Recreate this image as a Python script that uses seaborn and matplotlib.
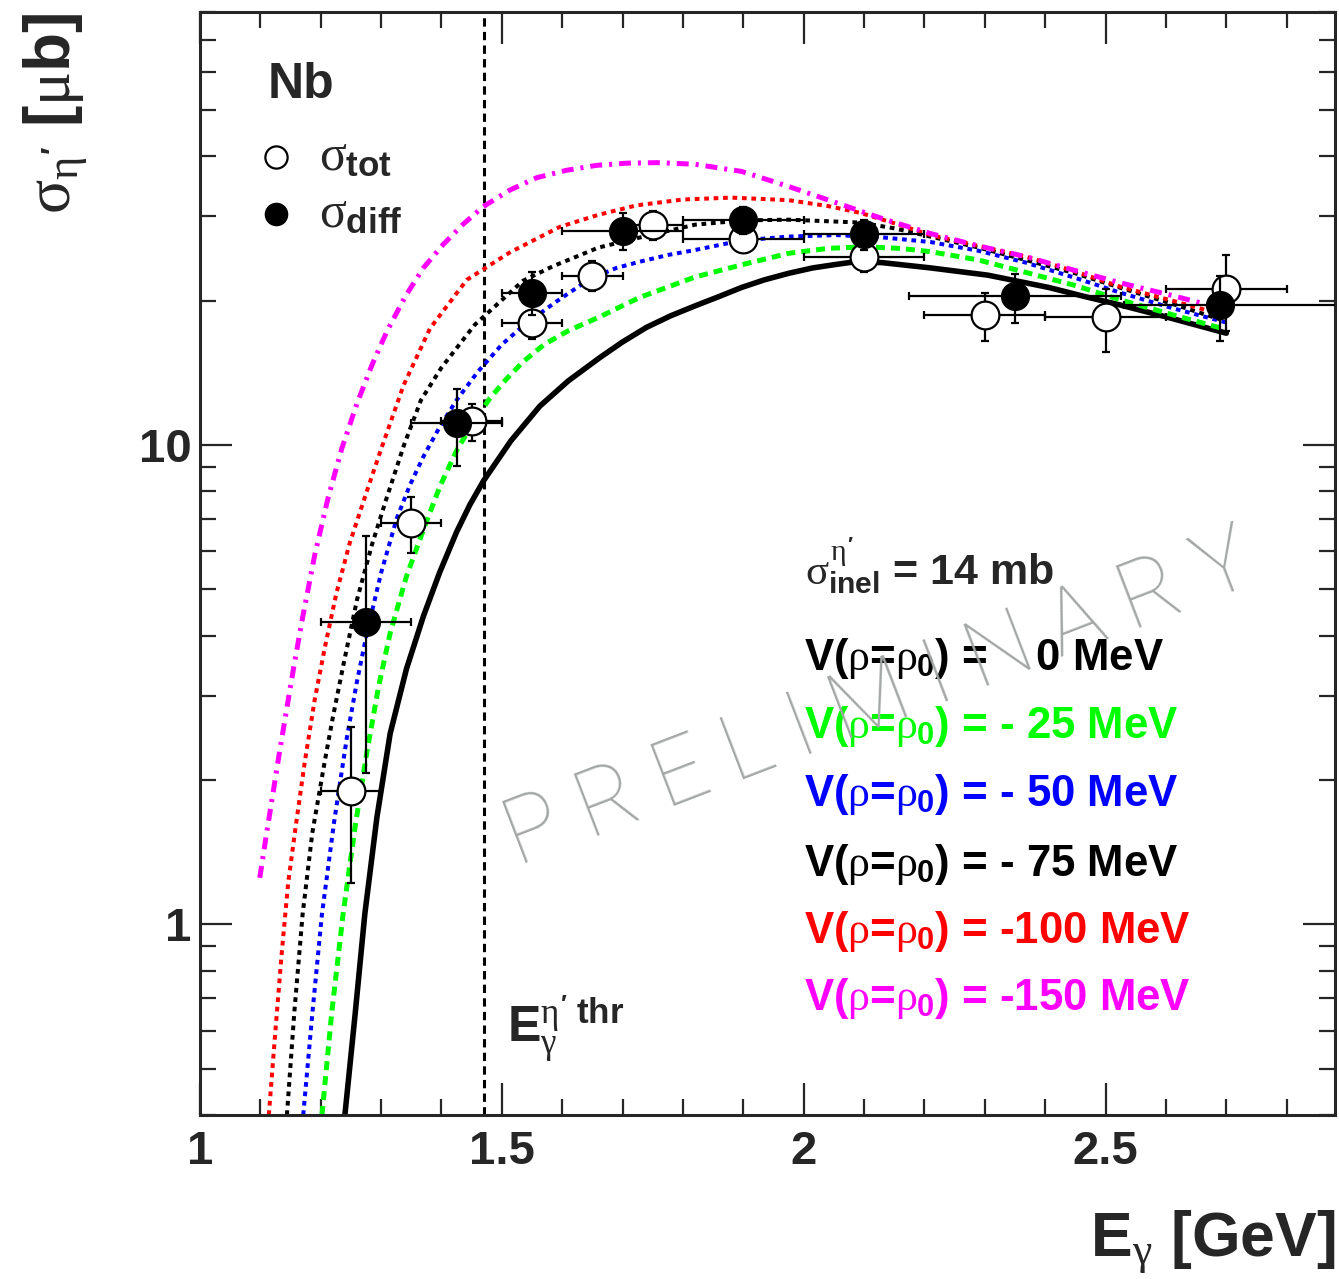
import matplotlib
matplotlib.use("Agg")
import matplotlib.pyplot as plt
import numpy as np
import seaborn as sns
from matplotlib.ticker import MultipleLocator, LogLocator, NullFormatter, FuncFormatter

# ---------------------------------------------------------------- data
# free-nucleon eta' photoproduction threshold [GeV]
e_thr = 1.47

# total cross section (open circles)
tot_e = [1.25, 1.35, 1.45, 1.55, 1.65, 1.75, 1.90, 2.10, 2.30, 2.50, 2.70]
tot_sig = [1.90, 6.87, 11.2, 18.0, 22.5, 28.8, 26.9, 24.7, 18.7, 18.5, 21.1]
tot_ex = [0.05, 0.05, 0.05, 0.05, 0.05, 0.05, 0.10, 0.10, 0.10, 0.10, 0.10]
tot_lo = [1.22, 5.96, 10.2, 16.6, 20.9, 26.8, 25.3, 22.9, 16.5, 15.6, 17.3]
tot_hi = [2.58, 7.78, 12.2, 19.5, 24.2, 30.8, 28.5, 26.5, 20.7, 21.1, 24.9]

# differential-method cross section (full circles)
diff_e = [1.275, 1.425, 1.55, 1.70, 1.90, 2.10, 2.35, 2.69]
diff_sig = [4.27, 11.1, 20.7, 28.0, 29.4, 27.6, 20.4, 19.6]
diff_ex_lo = [0.075, 0.075, 0.05, 0.10, 0.10, 0.10, 0.175, 0.16]
diff_ex_hi = [0.075, 0.075, 0.05, 0.10, 0.10, 0.10, 0.175, 0.21]
diff_lo = [2.07, 9.04, 18.7, 25.5, 27.5, 25.5, 18.0, 16.5]
diff_hi = [6.45, 13.1, 22.9, 30.5, 31.3, 29.5, 22.7, 22.5]

# model calculations for different real potential depths
v0_e = [1.240, 1.257, 1.273, 1.293, 1.315, 1.342, 1.370, 1.397, 1.425, 1.447,
        1.470, 1.515, 1.563, 1.610, 1.662, 1.700, 1.740, 1.780, 1.820, 1.860,
        1.897, 1.935, 1.975, 2.015, 2.054, 2.085, 2.130, 2.210, 2.305, 2.406,
        2.465, 2.523, 2.600, 2.700]
v0_s = [0.40, 0.65, 1.05, 1.67, 2.50, 3.41, 4.39, 5.42, 6.58, 7.50,
        8.43, 10.2, 12.05, 13.6, 15.2, 16.4, 17.6, 18.6, 19.5, 20.4,
        21.3, 22.1, 22.8, 23.4, 23.8, 24.1, 24.0, 23.4, 22.6, 21.3,
        20.4, 19.6, 18.5, 17.1]

v25_e = [1.202, 1.218, 1.237, 1.257, 1.277, 1.296, 1.315, 1.342, 1.370, 1.397,
         1.425, 1.450, 1.480, 1.507, 1.535, 1.570, 1.610, 1.662, 1.728, 1.820,
         1.900, 1.975, 2.040, 2.100, 2.160, 2.210, 2.290, 2.368, 2.450, 2.523,
         2.610, 2.700]
v25_s = [0.40, 0.65, 1.05, 1.60, 2.31, 3.14, 4.05, 5.32, 6.65, 8.17,
         9.73, 11.0, 12.5, 13.7, 14.9, 16.2, 17.3, 18.5, 20.3, 22.4,
         23.8, 25.1, 25.7, 25.9, 25.7, 25.3, 24.3, 22.9, 21.5, 20.1,
         18.7, 17.4]

v50_e = [1.171, 1.186, 1.202, 1.222, 1.243, 1.260, 1.277, 1.300, 1.326, 1.348,
         1.370, 1.397, 1.425, 1.460, 1.500, 1.535, 1.590, 1.646, 1.690, 1.728,
         1.775, 1.820, 1.897, 1.975, 2.054, 2.130, 2.210, 2.290, 2.368, 2.450,
         2.523, 2.610, 2.700]
v50_s = [0.40, 0.65, 1.05, 1.63, 2.44, 3.21, 4.08, 5.41, 7.03, 8.26,
         9.45, 10.9, 12.4, 14.2, 16.2, 17.7, 19.9, 22.2, 23.4, 24.1,
         24.9, 25.5, 26.7, 27.2, 27.4, 27.1, 26.5, 25.4, 24.0, 22.3,
         20.8, 19.3, 18.0]

v75_e = [1.144, 1.156, 1.170, 1.186, 1.207, 1.220, 1.238, 1.260, 1.285, 1.308,
         1.338, 1.366, 1.400, 1.455, 1.535, 1.585, 1.660, 1.740, 1.820, 1.900,
         1.975, 2.093, 2.150, 2.210, 2.290, 2.368, 2.450, 2.523, 2.610, 2.700]
v75_s = [0.40, 0.65, 1.05, 1.55, 2.20, 2.70, 3.50, 4.75, 6.20, 7.67,
         10.0, 12.4, 14.5, 17.8, 22.0, 23.6, 25.8, 27.3, 28.8, 29.4,
         29.5, 29.1, 28.3, 27.2, 25.8, 24.3, 22.8, 21.3, 19.7, 18.1]

v100_e = [1.114, 1.124, 1.135, 1.146, 1.160, 1.174, 1.190, 1.207, 1.226, 1.248,
          1.277, 1.300, 1.337, 1.381, 1.442, 1.513, 1.596, 1.660, 1.723, 1.800,
          1.880, 1.975, 2.040, 2.093, 2.150, 2.210, 2.290, 2.368, 2.450, 2.523,
          2.610, 2.700]
v100_s = [0.40, 0.58, 0.86, 1.22, 1.65, 2.20, 2.94, 3.79, 4.91, 6.24,
          8.05, 9.8, 13.3, 17.5, 22.1, 25.2, 28.5, 30.2, 31.6, 32.5,
          32.8, 32.4, 31.5, 30.5, 29.0, 27.4, 26.0, 24.7, 23.0, 21.4,
          20.0, 18.6]

v150_e = [1.099, 1.110, 1.121, 1.132, 1.144, 1.156, 1.169, 1.190, 1.212, 1.235,
          1.260, 1.285, 1.310, 1.340, 1.370, 1.403, 1.435, 1.469, 1.513, 1.558,
          1.607, 1.657, 1.707, 1.757, 1.820, 1.897, 1.975, 2.054, 2.132, 2.210,
          2.290, 2.368, 2.450, 2.523, 2.610, 2.690]
v150_s = [1.25, 1.54, 1.88, 2.30, 2.83, 3.48, 4.30, 5.89, 7.74, 9.84,
          12.2, 14.7, 17.3, 20.4, 23.4, 26.2, 28.8, 31.4, 34.0, 36.1,
          37.4, 38.3, 38.7, 38.8, 38.5, 37.2, 34.6, 32.0, 29.6, 27.6,
          26.0, 24.7, 23.1, 21.8, 20.5, 19.3]

x_ticks = [1, 1.5, 2, 2.5]
y_ticks = [1, 10]

# ---------------------------------------------------------------- style
sns.set_style("ticks")
plt.rcParams.update({
    "font.family": ["Liberation Sans", "DejaVu Sans"],
    "mathtext.fontset": "custom",
    "mathtext.rm": "Liberation Sans:bold",
    "mathtext.bf": "Liberation Sans:bold",
    "mathtext.it": "Liberation Serif:weight=normal",
    "mathtext.sf": "Liberation Sans:bold",
    "lines.scale_dashes": False,
    "axes.linewidth": 2.2,
})

fig = plt.figure(figsize=(13.39, 12.79), dpi=100)
ax = fig.add_axes([200 / 1339, 1 - 1115 / 1279, 1135 / 1339, 1103 / 1279])
ax.set_yscale("log")
ax.set_xlim(1.0, 2.88)
ax.set_ylim(0.40, 80)

# model curves
curves = [
    (v0_e, v0_s, "black", 4.0, "-"),
    (v25_e, v25_s, "#00ff00", 3.6, (0, (6.5, 4.3))),
    (v50_e, v50_s, "#0000ff", 2.9, (0, (3.4, 3.4))),
    (v75_e, v75_s, "black", 2.9, (0, (3.4, 3.4))),
    (v100_e, v100_s, "#ff0000", 2.9, (0, (3.4, 3.4))),
    (v150_e, v150_s, "#ff00ff", 3.6, (0, (8.6, 5.0, 2.2, 5.0))),
]
for xs, ys, col, lw, ls in curves:
    sns.lineplot(x=xs, y=ys, ax=ax, color=col, linewidth=lw, linestyle=ls,
                 estimator=None, sort=False, zorder=2)

# threshold marker
ax.axvline(e_thr, color="black", linewidth=2.2, linestyle=(0, (6.0, 3.8)), zorder=1)

# error bars and markers
tot_sig_a = np.array(tot_sig)
diff_sig_a = np.array(diff_sig)
ax.errorbar(tot_e, tot_sig, xerr=tot_ex,
            yerr=[tot_sig_a - np.array(tot_lo), np.array(tot_hi) - tot_sig_a],
            fmt="none", ecolor="black", elinewidth=1.6, capsize=3.2, capthick=1.6,
            zorder=3)
sns.scatterplot(x=tot_e, y=tot_sig, ax=ax, s=400, marker="o", color="white",
                edgecolor="black", linewidth=1.6, zorder=4)
h_tot = ax.collections[-1]

ax.errorbar(diff_e, diff_sig, xerr=[diff_ex_lo, diff_ex_hi],
            yerr=[diff_sig_a - np.array(diff_lo), np.array(diff_hi) - diff_sig_a],
            fmt="none", ecolor="black", elinewidth=1.6, capsize=3.2, capthick=1.6,
            zorder=5)
sns.scatterplot(x=diff_e, y=diff_sig, ax=ax, s=400, marker="o", color="black",
                edgecolor="black", linewidth=1.0, zorder=6)
h_diff = ax.collections[-1]

# ---------------------------------------------------------------- axes
ax.xaxis.set_major_locator(plt.FixedLocator(x_ticks))
ax.xaxis.set_minor_locator(MultipleLocator(0.1))
ax.yaxis.set_major_locator(plt.FixedLocator(y_ticks))
ax.yaxis.set_minor_locator(LogLocator(base=10, subs=np.arange(2, 10)))
fmt = FuncFormatter(lambda v, p: f"{v:g}")
ax.xaxis.set_major_formatter(fmt)
ax.yaxis.set_major_formatter(fmt)
ax.yaxis.set_minor_formatter(NullFormatter())
ax.tick_params(which="both", direction="in", top=True, right=True, width=1.6,
               labelsize=34)
ax.tick_params(which="major", length=23)
ax.tick_params(which="minor", length=11.5)
ax.tick_params(axis="x", pad=11)
ax.tick_params(axis="y", pad=6)
for lab in ax.get_xticklabels() + ax.get_yticklabels():
    lab.set_fontweight("bold")

ax.set_xlabel(r"E$_{\gamma}$ [GeV]", fontsize=45, fontweight="bold")
ax.xaxis.label.set_horizontalalignment("right")
ax.xaxis.label.set_verticalalignment("baseline")
ax.xaxis.set_label_coords(1.0, -0.127)

ax.set_ylabel(r"$\sigma_{\eta'}$ [$\mu$b]", fontsize=46, fontweight="bold")
ax.yaxis.label.set_horizontalalignment("right")
ax.yaxis.label.set_verticalalignment("center")
ax.yaxis.set_label_coords(-0.128, 1.0)

# ---------------------------------------------------------------- texts
def ay(py):
    return (1115 - py) / 1103


ax.text(0.060, ay(98), "Nb", fontsize=36, fontweight="bold", transform=ax.transAxes)

ax.legend([h_tot, h_diff], [r"$\sigma_{\mathrm{tot}}$", r"$\sigma_{\mathrm{diff}}$"],
          loc="upper left", bbox_to_anchor=(0.045, ay(134)), frameon=False,
          fontsize=36, handlelength=1.0, handletextpad=0.35, labelspacing=0.22,
          borderpad=0, borderaxespad=0, markerscale=0.8, scatterpoints=1)

ax.text(0.2705, ay(1043), r"E$_{\gamma}^{\eta'\ \mathrm{thr}}$", fontsize=36,
        fontweight="bold", transform=ax.transAxes)

ax.text(0.533, ay(585), r"$\sigma^{\eta'}_{\mathrm{inel}}$ = 14 mb", fontsize=31,
        fontweight="bold", transform=ax.transAxes)

pot_labels = [
    ("V($\\rho$=$\\rho_{0}$) =    0 MeV", "black", 670),
    ("V($\\rho$=$\\rho_{0}$) = - 25 MeV", "#00ff00", 738),
    ("V($\\rho$=$\\rho_{0}$) = - 50 MeV", "#0000ff", 806),
    ("V($\\rho$=$\\rho_{0}$) = - 75 MeV", "black", 876),
    ("V($\\rho$=$\\rho_{0}$) = -100 MeV", "#ff0000", 943),
    ("V($\\rho$=$\\rho_{0}$) = -150 MeV", "#ff00ff", 1010),
]
for txt, col, py in pot_labels:
    ax.text(0.532, ay(py), txt, fontsize=31.5, fontweight="bold", color=col,
            transform=ax.transAxes)

fig.text(518 / 1339, 1 - 867 / 1279, "P R E L I M I N A R Y", fontsize=66,
         family=["Roboto", "DejaVu Sans"], fontweight="light", color="#a3a7a5",
         rotation=21, rotation_mode="anchor", ha="left", va="baseline")

fig.savefig("out.png", dpi=100)
